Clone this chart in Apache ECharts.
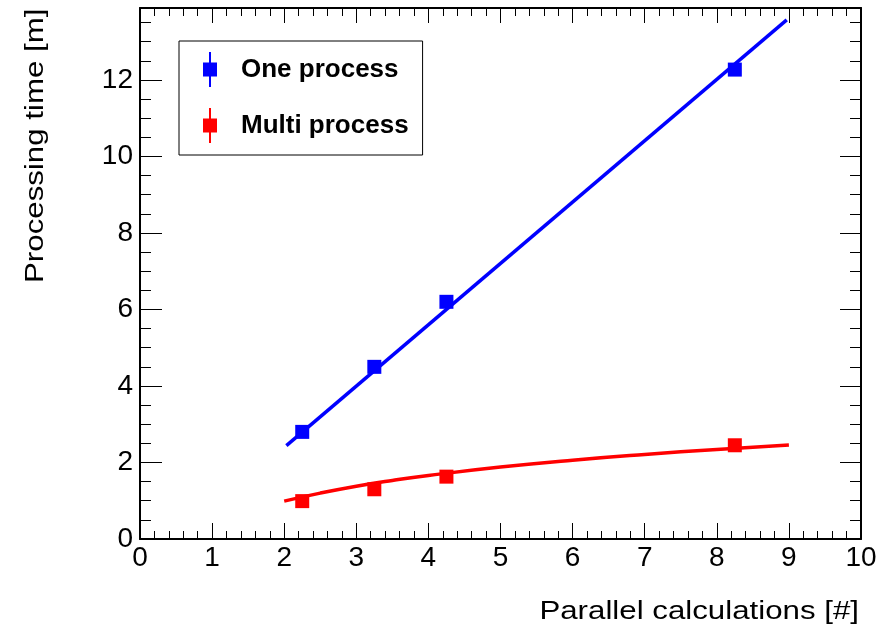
<!DOCTYPE html>
<html>
<head>
<meta charset="utf-8">
<script src="https://cdn.jsdelivr.net/npm/echarts@6/dist/echarts.min.js"></script>
<style>
  html, body { margin: 0; padding: 0; background: #fff; }
  #chart { width: 882px; height: 631px; }
</style>
</head>
<body>
<div id="chart"></div>
<script>
// measured points
const xPoints = [2.25, 3.25, 4.25, 8.25];
const onePoints = [2.8, 4.5, 6.2, 12.27];
const multiPoints = [0.99, 1.3, 1.63, 2.45];

// fit lines
const oneFitX = [2.03, 8.97];
const oneFitY = [2.44, 13.57];
const multiFitX = [2, 2.5, 3, 3.5, 4, 5, 6, 7, 8, 9];
const multiFitY = [0.99, 1.2, 1.38, 1.53, 1.66, 1.88, 2.06, 2.21, 2.34, 2.46];

const xTicks = [0, 1, 2, 3, 4, 5, 6, 7, 8, 9, 10];
const yTicks = [0, 2, 4, 6, 8, 10, 12];

const font = "'Liberation Sans', Arial, Helvetica, sans-serif";
const yMax = 13.88;

const pairs = (xs, ys) => xs.map((x, i) => [x, ys[i]]);

// marker with error bar for legend
const legendIcon = "path://M6,0h2v10.5h6v14h-6v10.5h-2v-10.5h-6v-14h6z";

const chart = echarts.init(document.getElementById("chart"));

const frameLine = { show: true, onZero: false, lineStyle: { color: "#000", width: 2 } };
const noLine = { show: false, onZero: false };

const yAxisCommon = {
  type: "value",
  min: 0,
  max: yMax,
  splitLine: { show: false },
};

const option = {
  animation: false,
  backgroundColor: "#fff",
  grid: { left: 140, right: 21, top: 8, bottom: 92 },
  legend: {
    orient: "vertical",
    left: 179,
    top: 41,
    padding: [11, 14, 12, 24],
    itemGap: 21,
    itemWidth: 14,
    itemHeight: 35,
    borderColor: "#000",
    borderWidth: 1,
    borderRadius: 0,
    data: [
      { name: "One process", icon: legendIcon },
      { name: "Multi process", icon: legendIcon },
    ],
    textStyle: {
      fontFamily: font,
      fontWeight: "bold",
      fontSize: 26,
      color: "#000",
      padding: [0, 0, 0, 19],
    },
  },
  xAxis: [
    {
      type: "value",
      min: 0,
      max: 10,
      interval: 1,
      position: "bottom",
      axisLine: frameLine,
      splitLine: { show: false },
      axisTick: { inside: true, length: 16, lineStyle: { color: "#000", width: 1 } },
      minorTick: { show: true, splitNumber: 5, length: 8, lineStyle: { color: "#000", width: 1 } },
      axisLabel: {
        margin: 5,
        fontFamily: font,
        fontSize: 28,
        color: "#000",
        formatter: (v) => (xTicks.includes(v) ? String(v) : ""),
      },
    },
    {
      type: "value",
      min: 0,
      max: 10,
      interval: 1,
      position: "top",
      axisLine: frameLine,
      splitLine: { show: false },
      axisTick: { inside: true, length: 15, lineStyle: { color: "#000", width: 1 } },
      minorTick: { show: true, splitNumber: 5, length: 8, lineStyle: { color: "#000", width: 1 } },
      axisLabel: { show: false },
    },
  ],
  yAxis: [
    Object.assign({}, yAxisCommon, {
      interval: 2,
      position: "left",
      axisLine: frameLine,
      axisTick: { inside: true, length: 22, lineStyle: { color: "#000", width: 1 } },
      axisLabel: {
        margin: 7,
        showMaxLabel: false,
        fontFamily: font,
        fontSize: 28,
        color: "#000",
        formatter: (v) => (yTicks.includes(v) ? String(v) : ""),
      },
    }),
    Object.assign({}, yAxisCommon, {
      interval: 0.5,
      position: "left",
      axisLine: noLine,
      axisTick: { inside: true, length: 11, lineStyle: { color: "#000", width: 1 } },
      axisLabel: { show: false },
    }),
    Object.assign({}, yAxisCommon, {
      interval: 2,
      position: "right",
      axisLine: frameLine,
      axisTick: { inside: true, length: 21, lineStyle: { color: "#000", width: 1 } },
      axisLabel: { show: false },
    }),
    Object.assign({}, yAxisCommon, {
      interval: 0.5,
      position: "right",
      axisLine: noLine,
      axisTick: { inside: true, length: 11, lineStyle: { color: "#000", width: 1 } },
      axisLabel: { show: false },
    }),
  ],
  graphic: [
    {
      type: "text",
      x: 859,
      y: 612,
      scaleX: 1.25,
      style: {
        text: "Parallel calculations [#]",
        font: "25px " + font,
        fill: "#000",
        textAlign: "right",
        textVerticalAlign: "middle",
      },
    },
    {
      type: "text",
      x: 36,
      y: 283,
      rotation: Math.PI / 2,
      scaleX: 1.25,
      style: {
        text: "Processing time [m]",
        font: "25px " + font,
        fill: "#000",
        textAlign: "left",
        textVerticalAlign: "middle",
      },
    },
  ],
  series: [
    {
      name: "One fit",
      type: "line",
      data: pairs(oneFitX, oneFitY),
      showSymbol: false,
      lineStyle: { color: "#0000ff", width: 3.5 },
      z: 2,
    },
    {
      name: "Multi fit",
      type: "line",
      smooth: 0.5,
      data: pairs(multiFitX, multiFitY),
      showSymbol: false,
      lineStyle: { color: "#ff0000", width: 3.5 },
      z: 2,
    },
    {
      name: "One process",
      type: "scatter",
      symbol: "rect",
      symbolSize: 14,
      data: pairs(xPoints, onePoints),
      itemStyle: { color: "#0000ff", opacity: 1 },
      z: 3,
    },
    {
      name: "Multi process",
      type: "scatter",
      symbol: "rect",
      symbolSize: 14,
      data: pairs(xPoints, multiPoints),
      itemStyle: { color: "#ff0000", opacity: 1 },
      z: 3,
    },
  ],
};

chart.setOption(option);
</script>
</body>
</html>
